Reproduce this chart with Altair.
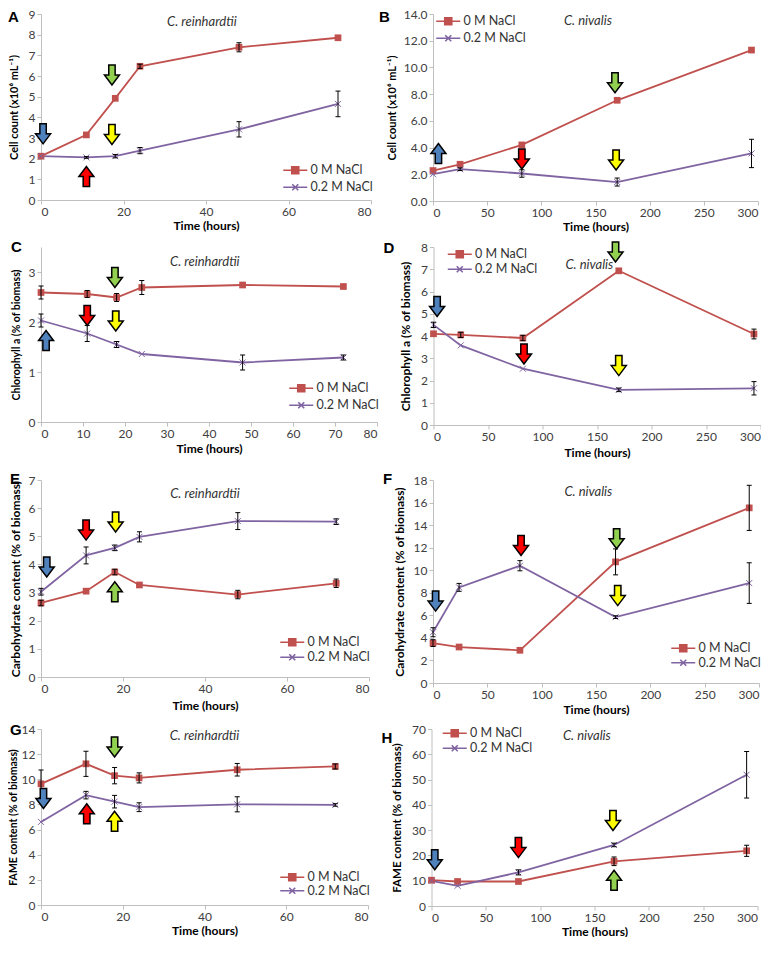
import altair as alt
import pandas as pd

SERIES = ["0 M NaCl", "0.2 M NaCl"]
LINE_COLORS = ["#C0504D", "#8064A2"]
ARROW_NAMES = ["blue", "red", "yellow", "green"]
ARROW_COLORS = ["#4F81BD", "#FF0000", "#FFFF00", "#92D050"]

X_PATH = "M-1,-1L1,1M-1,1L1,-1"
DOWN = "M-0.32,-1L0.32,-1L0.32,0L0.75,0L0,1L-0.75,0L-0.32,0Z"
UP = "M-0.32,1L0.32,1L0.32,0L0.75,0L0,-1L-0.75,0L-0.32,0Z"
LEG_SQ = "M-2.4,0H2.4M-0.7,-0.7H0.7V0.7H-0.7Z"
LEG_X = "M-2.4,0H2.4M-0.6,-0.6L0.6,0.6M-0.6,0.6L0.6,-0.6"

# ---------------- data ----------------
A_time = [0, 11, 18, 24, 48, 72]
A_0M = [2.12, 3.15, 4.92, 6.47, 7.39, 7.85]
A_0M_err = [0, 0, 0, 0.1, 0.22, 0]
A_02M = [2.12, 2.06, 2.12, 2.39, 3.42, 4.65]
A_02M_err = [0, 0.04, 0.08, 0.15, 0.37, 0.62]
A_arrow_t = [0.5, 11, 17.2, 17.2]
A_arrow_v = [3.2, 1.14, 6.05, 3.17]
A_arrow_dir = ["down", "up", "down", "down"]
A_arrow_col = ["blue", "red", "green", "yellow"]

B_time = [0, 25, 82, 170, 294]
B_0M = [2.28, 2.75, 4.2, 7.54, 11.3]
B_0M_err = [0, 0, 0, 0, 0]
B_02M = [2.01, 2.38, 2.06, 1.42, 3.56]
B_02M_err = [0, 0.1, 0.28, 0.3, 1.06]
B_arrow_t = [5, 82, 168, 169]
B_arrow_v = [3.56, 3.15, 8.85, 3.07]
B_arrow_dir = ["up", "down", "down", "down"]
B_arrow_col = ["blue", "red", "green", "yellow"]

C_time = [0, 11, 18, 24, 48, 72]
C_0M = [2.59, 2.56, 2.49, 2.69, 2.74, 2.71]
C_0M_err = [0.13, 0.07, 0.08, 0.14, 0, 0]
C_02M = [2.03, 1.77, 1.55, 1.36, 1.19, 1.29]
C_02M_err = [0.13, 0.16, 0.06, 0, 0.15, 0.05]
C_arrow_t = [17.6, 11, 17.8, 1.2]
C_arrow_v = [2.89, 2.13, 2.02, 1.63]
C_arrow_dir = ["down", "down", "down", "up"]
C_arrow_col = ["green", "red", "yellow", "blue"]

D_time = [0, 25, 82, 170, 294]
D_0M = [4.1, 4.05, 3.91, 6.93, 4.09]
D_0M_err = [0, 0.12, 0.12, 0, 0.22]
D_02M = [4.5, 3.58, 2.53, 1.58, 1.65]
D_02M_err = [0.12, 0, 0, 0.08, 0.3]
D_arrow_t = [3.3, 83, 170, 167]
D_arrow_v = [5.33, 3.19, 2.67, 7.78]
D_arrow_dir = ["down", "down", "down", "down"]
D_arrow_col = ["blue", "red", "yellow", "green"]

E_time = [0, 11, 18, 24, 48, 72]
E_0M = [2.63, 3.05, 3.73, 3.27, 2.93, 3.33]
E_0M_err = [0.1, 0, 0.1, 0, 0.15, 0.15]
E_02M = [3.03, 4.32, 4.59, 4.98, 5.54, 5.52]
E_02M_err = [0.12, 0.3, 0.1, 0.18, 0.3, 0.1]
E_arrow_t = [1.4, 11, 18.2, 18]
E_arrow_v = [3.91, 5.22, 5.51, 3.03]
E_arrow_dir = ["down", "down", "down", "up"]
E_arrow_col = ["blue", "red", "yellow", "green"]

F_time = [0, 24, 80, 168, 291]
F_0M = [3.54, 3.19, 2.9, 10.74, 15.53]
F_0M_err = [0.3, 0, 0, 1.15, 2.0]
F_02M = [4.5, 8.48, 10.4, 5.84, 8.86]
F_02M_err = [0.4, 0.35, 0.45, 0.12, 1.8]
F_arrow_t = [2.4, 81, 169, 170]
F_arrow_v = [7.26, 12.2, 12.8, 7.75]
F_arrow_dir = ["down", "down", "down", "down"]
F_arrow_col = ["blue", "red", "green", "yellow"]

G_time = [0, 11, 18, 24, 48, 72]
G_0M = [9.64, 11.23, 10.29, 10.11, 10.76, 11.02]
G_0M_err = [1.1, 1.0, 0.65, 0.4, 0.5, 0.2]
G_02M = [6.61, 8.74, 8.22, 7.78, 8.01, 7.96]
G_02M_err = [0, 0.3, 0.5, 0.35, 0.6, 0.1]
G_arrow_t = [0.6, 18, 11.2, 18]
G_arrow_v = [8.48, 12.57, 7.26, 6.66]
G_arrow_dir = ["down", "down", "up", "up"]
G_arrow_col = ["blue", "green", "red", "yellow"]

H_time = [0, 24, 80, 168, 290]
H_0M = [10.2, 9.69, 9.69, 17.69, 21.83]
H_0M_err = [0, 0, 0, 1.7, 2.2]
H_02M = [9.94, 8.0, 13.3, 24.15, 51.9]
H_02M_err = [0, 0, 1.0, 0.7, 9.2]
H_arrow_t = [3, 80, 167, 168]
H_arrow_v = [18.3, 23.1, 33.8, 10.2]
H_arrow_dir = ["down", "down", "down", "up"]
H_arrow_col = ["blue", "red", "yellow", "green"]

CELL = "Cell count (x10\u2076 mL\u207b\u00b9)"
CHL = "Chlorophyll a (% of biomass)"

panels = {
    "A": dict(time=A_time, v0=A_0M, e0=A_0M_err, v2=A_02M, e2=A_02M_err,
              at=A_arrow_t, av=A_arrow_v, adir=A_arrow_dir, acol=A_arrow_col,
              species="C. reinhardtii", st=39, sv=8.6, ytitle=CELL,
              ymax=9, yvals=list(range(0, 10)), yfmt="d", xmax=80, xstep=20),
    "B": dict(time=B_time, v0=B_0M, e0=B_0M_err, v2=B_02M, e2=B_02M_err,
              at=B_arrow_t, av=B_arrow_v, adir=B_arrow_dir, acol=B_arrow_col,
              species="C. nivalis", st=143, sv=13.5, ytitle=CELL,
              ymax=14, yvals=list(range(0, 15, 2)), yfmt=".1f", xmax=300, xstep=50),
    "C": dict(time=C_time, v0=C_0M, e0=C_0M_err, v2=C_02M, e2=C_02M_err,
              at=C_arrow_t, av=C_arrow_v, adir=C_arrow_dir, acol=C_arrow_col,
              species="C. reinhardtii", st=39, sv=3.2, ytitle=CHL,
              ymax=3.5, yvals=[0, 1, 2, 3], yfmt="d", xmax=80, xstep=10),
    "D": dict(time=D_time, v0=D_0M, e0=D_0M_err, v2=D_02M, e2=D_02M_err,
              at=D_arrow_t, av=D_arrow_v, adir=D_arrow_dir, acol=D_arrow_col,
              species="C. nivalis", st=143, sv=7.2, ytitle=CHL,
              ymax=8, yvals=list(range(0, 9)), yfmt="d", xmax=300, xstep=50),
    "E": dict(time=E_time, v0=E_0M, e0=E_0M_err, v2=E_02M, e2=E_02M_err,
              at=E_arrow_t, av=E_arrow_v, adir=E_arrow_dir, acol=E_arrow_col,
              species="C. reinhardtii", st=40, sv=6.5, ytitle="Carbohydrate content (% of biomass)",
              ymax=7, yvals=list(range(0, 8)), yfmt="d", xmax=80, xstep=20),
    "F": dict(time=F_time, v0=F_0M, e0=F_0M_err, v2=F_02M, e2=F_02M_err,
              at=F_arrow_t, av=F_arrow_v, adir=F_arrow_dir, acol=F_arrow_col,
              species="C. nivalis", st=143, sv=16.9, ytitle="Carohydrate content (% of biomass)",
              ymax=18, yvals=list(range(0, 19, 2)), yfmt="d", xmax=300, xstep=50),
    "G": dict(time=G_time, v0=G_0M, e0=G_0M_err, v2=G_02M, e2=G_02M_err,
              at=G_arrow_t, av=G_arrow_v, adir=G_arrow_dir, acol=G_arrow_col,
              species="C. reinhardtii", st=40, sv=13.45, ytitle="FAME content (% of biomass)",
              ymax=14, yvals=list(range(0, 15, 2)), yfmt="d", xmax=80, xstep=20),
    "H": dict(time=H_time, v0=H_0M, e0=H_0M_err, v2=H_02M, e2=H_02M_err,
              at=H_arrow_t, av=H_arrow_v, adir=H_arrow_dir, acol=H_arrow_col,
              species="C. nivalis", st=143, sv=67.3, ytitle="FAME content (% of biomass)",
              ymax=70, yvals=list(range(0, 71, 10)), yfmt="d", xmax=300, xstep=50),
}

# layout in pixels: plot width/height, y-title x and size, x-title padding,
# letter x/baseline, legend x (from right if "legr") and y (from top "legt" or bottom "legb")
layout = {
    "A": dict(w=330, h=186, ytx=-22, yfs=11, xtp=3, lx=-33, ly=8, legr=82, legb=36, lrp=4),
    "B": dict(w=325, h=187, ytx=-36, yfs=11, xtp=3, lx=-54, ly=8, legx=9, legt=1, lrp=4),
    "C": dict(w=336, h=175, ytx=-20, yfs=10.5, xtp=4, lx=-30, ly=5, legr=82, legb=40, lrp=4),
    "D": dict(w=327, h=178, ytx=-21, yfs=12, xtp=5, lx=-50, ly=6, legx=20, legt=1, lrp=2),
    "E": dict(w=328, h=197, ytx=-19, yfs=12, xtp=6, lx=-31, ly=4, legr=83, legb=41, lrp=2),
    "F": dict(w=326, h=203, ytx=-27, yfs=12, xtp=4, lx=-50, ly=4, legr=82, legb=41, lrp=1.5),
    "G": dict(w=327, h=176, ytx=-23, yfs=10.5, xtp=3, lx=-31, ly=6, legr=82, legb=34, lrp=0.5),
    "H": dict(w=326, h=177, ytx=-29, yfs=11.5, xtp=3, lx=-50, ly=14, legx=17, legt=-2, lrp=2),
}

IND = dict(shape="independent", fill="independent", stroke="independent")


def make_panel(key):
    p = panels[key]
    L = layout[key]
    rows = []
    for s, vals, errs in ((SERIES[0], p["v0"], p["e0"]), (SERIES[1], p["v2"], p["e2"])):
        for t, v, e in zip(p["time"], vals, errs):
            rows.append({"t": t, "v": v, "err": e, "lo": v - e, "hi": v + e, "series": s})
    df = pd.DataFrame(rows)

    xs = alt.Scale(domain=[0, p["xmax"]], nice=False)
    ys = alt.Scale(domain=[0, p["ymax"]], nice=False)
    xaxis = alt.Axis(values=list(range(0, p["xmax"] + 1, p["xstep"])), title="Time (hours)",
                     titlePadding=L["xtp"])
    yaxis = alt.Axis(values=p["yvals"], format=p["yfmt"], title=p["ytitle"],
                     titleX=L["ytx"], titleFontSize=L["yfs"])

    def X(f):
        return alt.X(f, type="quantitative", scale=xs, axis=xaxis)

    def Y(f):
        return alt.Y(f, type="quantitative", scale=ys, axis=yaxis)

    base = alt.Chart(df)
    layers = []
    for s, c in zip(SERIES, LINE_COLORS):
        layers.append(base.transform_filter(alt.datum.series == s)
                      .mark_line(color=c, strokeWidth=1.8)
                      .encode(x=X("t"), y=Y("v")))
    layers.append(base.transform_filter(alt.datum.series == SERIES[0])
                  .mark_square(color=LINE_COLORS[0], size=45, opacity=1)
                  .encode(x=X("t"), y=Y("v")))
    layers.append(base.transform_filter(alt.datum.series == SERIES[1])
                  .mark_point(shape=X_PATH, color=LINE_COLORS[1], size=36, strokeWidth=1,
                              filled=False, opacity=1)
                  .encode(x=X("t"), y=Y("v")))
    eb = base.transform_filter("datum.err > 0")
    layers.append(eb.mark_rule(color="black", strokeWidth=1)
                  .encode(x=X("t"), y=Y("lo"), y2="hi:Q"))
    for f in ("lo", "hi"):
        layers.append(eb.mark_tick(orient="horizontal", color="black", size=5, thickness=1,
                                   opacity=1)
                      .encode(x=X("t"), y=Y(f)))

    # legend (drawn by the Vega-Lite legend; helper marks are clipped away)
    legX = L["legx"] if "legx" in L else L["w"] - L["legr"]
    legY = L["legt"] if "legt" in L else L["h"] - L["legb"]
    leg = alt.Legend(title=None, orient="none", legendX=legX, legendY=legY,
                     symbolSize=100, symbolStrokeWidth=1.6, symbolOpacity=1, labelOffset=9,
                     rowPadding=L["lrp"], padding=0, labelFontSize=12.5, labelFont="Lato",
                     labelColor="#333333")
    layers.append(base.mark_point(clip=True, filled=True, opacity=1).encode(
        x=alt.value(-300), y=alt.value(-300),
        shape=alt.Shape("series:N", scale=alt.Scale(domain=SERIES, range=[LEG_SQ, LEG_X]), legend=leg),
        fill=alt.Fill("series:N", scale=alt.Scale(domain=SERIES, range=LINE_COLORS), legend=leg),
        stroke=alt.Stroke("series:N", scale=alt.Scale(domain=SERIES, range=LINE_COLORS), legend=leg),
    ))

    # arrows
    adf = pd.DataFrame({"t": p["at"], "v": p["av"], "dir": p["adir"], "col": p["acol"]})
    for d, path in (("down", DOWN), ("up", UP)):
        for name, hexc in zip(ARROW_NAMES, ARROW_COLORS):
            sub = adf[(adf["dir"] == d) & (adf["col"] == name)]
            if len(sub):
                layers.append(alt.Chart(sub).mark_point(
                    shape=path, size=400, filled=True, fill=hexc, stroke="black",
                    strokeWidth=1.5, opacity=1).encode(x=X("t"), y=Y("v")))

    # species label
    sdf = pd.DataFrame({"t": [p["st"]], "v": [p["sv"]], "label": [p["species"]]})
    layers.append(alt.Chart(sdf).mark_text(font="Lato", fontStyle="italic", fontSize=13,
                                           color="#333333")
                  .encode(x=X("t"), y=Y("v"), text="label:N"))

    # panel letter
    ldf = pd.DataFrame({"letter": [key]})
    layers.append(alt.Chart(ldf).mark_text(font="Liberation Sans", fontWeight="bold", fontSize=15,
                                           align="left", baseline="alphabetic", color="black")
                  .encode(x=alt.value(L["lx"]), y=alt.value(L["ly"]), text="letter:N"))

    return (alt.layer(*layers).properties(width=L["w"], height=L["h"])
            .resolve_scale(**IND).resolve_legend(**IND))


def row(a, b, sp):
    return (alt.hconcat(make_panel(a), make_panel(b), spacing=sp)
            .resolve_scale(**IND).resolve_legend(**IND))


row1 = row("A", "B", 6)
row2 = row("C", "D", 4.5)
row3 = row("E", "F", 13)
row4 = row("G", "H", 11.5)

lower = alt.vconcat(row3, row4, spacing=8).resolve_scale(**IND).resolve_legend(**IND)
middle = alt.vconcat(row2, lower, spacing=14).resolve_scale(**IND).resolve_legend(**IND)
chart = (alt.vconcat(row1, middle, spacing=6)
         .resolve_scale(**IND).resolve_legend(**IND)
         .properties(padding=0)
         .configure_view(stroke=None)
         .configure_axis(
             grid=False, domainColor="#BFBFBF", tickColor="#BFBFBF", tickSize=4,
             labelFont="Lato", labelFontSize=12, labelColor="#404040", labelPadding=2,
             titleFont="Lato", titleFontWeight="bold", titleColor="black", titleFontSize=12,
         ))

chart.save("out.html", embed_options={"renderer": "svg", "actions": False})
